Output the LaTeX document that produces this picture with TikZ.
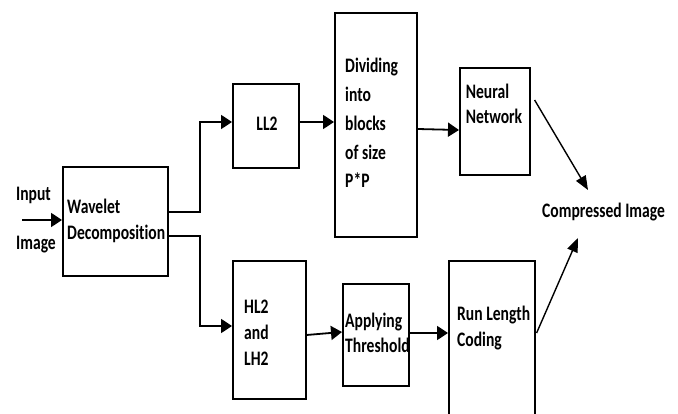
\documentclass[tikz,border=0pt]{standalone}
\usepackage{fontspec}
\setmainfont{Carlito}[Ligatures=CommonOff]
\usetikzlibrary{arrows.meta}
% labels are set in a tall, narrow cut of the face
\newcommand{\tl}[1]{\scalebox{1}[1.32]{#1}}
\tikzset{
  box/.style={draw, line width=1.6pt, inner sep=0pt, anchor=north west},
  lbl/.style={font=\fontsize{15.6}{26}\selectfont\bfseries, inner sep=0pt, align=left},
  arr/.style={line width=1.8pt, -{Triangle[length=11pt,width=14pt]}},
  thin/.style={line width=1.4pt, -{Triangle[length=14pt,width=11pt]}}
}
\begin{document}
\begin{tikzpicture}[x=1pt,y=-1pt]
  \useasboundingbox (0,0) rectangle (678,414);
  % blocks
  \node[box, minimum width=105pt, minimum height=109pt] (wav) at (62,166) {};
  \node[box, minimum width=66pt,  minimum height=84pt]  (ll2) at (232,83) {};
  \node[box, minimum width=82pt,  minimum height=224pt] (div) at (334,12) {};
  \node[box, minimum width=70pt,  minimum height=107pt] (nn)  at (459,67) {};
  \node[box, minimum width=73pt,  minimum height=138pt] (hl)  at (232,260) {};
  \node[box, minimum width=66pt,  minimum height=102pt] (thr) at (342,283) {};
  \node[box, minimum width=86pt,  minimum height=155pt] (rlc) at (448,260) {};
  % labels
  \node[lbl, anchor=west] (in1) at (16,195) {\tl{Input}};
  \node[lbl, anchor=west] (in2) at (16,245) {\tl{Image}};
  \node[lbl, anchor=west] (twav) at (67,221) {\tl{Wavelet}\\\tl{Decomposition}};
  \node[lbl] (tll) at (267,124) {\tl{LL2}};
  \node[lbl, anchor=west, font=\fontsize{15.6}{28.8}\selectfont\bfseries] (tdiv) at (345,123)
    {\tl{Dividing}\\\tl{into}\\\tl{blocks}\\\tl{of size}\\\tl{P*P}};
  \node[lbl, font=\fontsize{15.6}{25}\selectfont\bfseries] (tnn) at (494,104) {\tl{Neural}\\\tl{Network}};
  \node[lbl, anchor=west] (thl) at (244,333) {\tl{HL2}\\\tl{and}\\\tl{LH2}};
  \node[lbl, anchor=west, font=\fontsize{15.6}{25}\selectfont\bfseries] (tthr) at (345,333) {\tl{Applying}\\\tl{Threshold}};
  \node[lbl, anchor=west] (trlc) at (457,328) {\tl{Run Length}\\\tl{Coding}};
  \node[lbl, anchor=west] (out) at (542,212) {\tl{Compressed Image}};
  % connectors
  \coordinate (src) at (22,220);
  \draw[arr] (src) -- (wav.west |- src);
  \draw[arr] (wav.east |- 0,212) -- (200,212) -- (200,122) -- (ll2.west |- 0,122);
  \draw[arr] (wav.east |- 0,236) -- (200,236) -- (200,326) -- (hl.west |- 0,326);
  \draw[arr] (ll2.east |- 0,122) -- (div.west |- 0,122);
  \draw[arr] (div.east |- 0,129) -- (nn.west |- 0,130);
  \draw[arr] (hl.east |- 0,335) -- (thr.west |- 0,332);
  \draw[arr] (thr.east |- 0,333) -- (rlc.west |- 0,333);
  \coordinate (top) at (588,190);
  \coordinate (bot) at (578,238);
  \draw[thin] (nn.east |- 0,100) ++(4,0) -- (top);
  \draw[thin] (rlc.east |- 0,333) ++(1,0) -- (bot);
\end{tikzpicture}
\end{document}
